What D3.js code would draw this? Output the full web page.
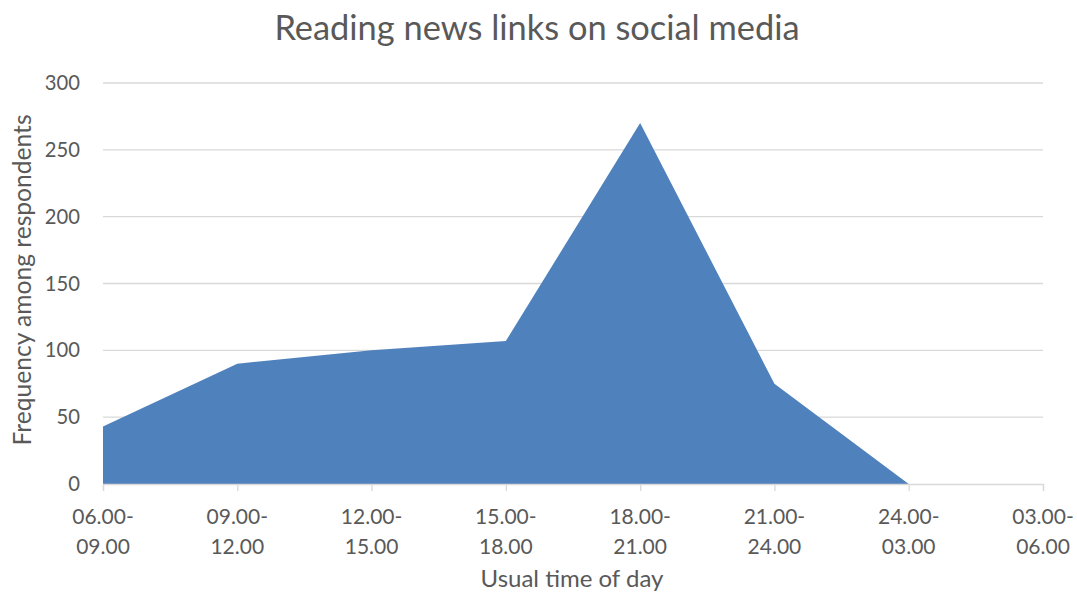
<!DOCTYPE html>
<html>
<head>
<meta charset="utf-8">
<script src="https://cdn.jsdelivr.net/npm/d3@7"></script>
<style>
  html, body { margin: 0; padding: 0; background: #fff; }
  svg { display: block; font-family: Lato, "Open Sans", sans-serif; }
</style>
</head>
<body>
<svg id="chart" width="1077" height="593"></svg>
<script>
// Time slots and how many respondents usually read news links then
const timeSlots = ["06.00-09.00", "09.00-12.00", "12.00-15.00", "15.00-18.00",
                   "18.00-21.00", "21.00-24.00", "24.00-03.00", "03.00-06.00"];
const frequency = [43, 90, 100, 107, 270, 75, 0, 0];
const yTicks = [0, 50, 100, 150, 200, 250, 300];

const titleText = "Reading news links on social media";
const xTitle = "Usual time of day";
const yTitle = "Frequency among respondents";

const svg = d3.select("#chart");
const margin = { left: 103, right: 34, top: 83, bottom: 109 };
const W = 1077, H = 593;

const x = d3.scalePoint().domain(timeSlots).range([margin.left, W - margin.right]);
const y = d3.scaleLinear().domain([0, 300]).range([H - margin.bottom, margin.top]);

const textColor = "#595959";
const gridColor = "#d9d9d9";

// horizontal gridlines
svg.append("g")
  .selectAll("line")
  .data(yTicks.filter(d => d > 0))
  .join("line")
  .attr("x1", margin.left).attr("x2", W - margin.right)
  .attr("y1", d => y(d)).attr("y2", d => y(d))
  .attr("stroke", gridColor).attr("stroke-width", 1.3);

// the area itself
const area = d3.area()
  .x(d => x(d.slot))
  .y0(y(0))
  .y1(d => y(d.value));
const rows = timeSlots.map((s, i) => ({ slot: s, value: frequency[i] }));
svg.append("path")
  .datum(rows)
  .attr("d", area)
  .attr("fill", "#4f81bd");

// bottom axis with downward ticks and two-line labels
const xAxis = svg.append("g")
  .attr("transform", `translate(0,${y(0)})`)
  .call(d3.axisBottom(x).tickSize(7).tickFormat(""));
xAxis.select(".domain").attr("stroke", gridColor).attr("stroke-width", 1.3);
xAxis.selectAll(".tick line").attr("stroke", gridColor).attr("stroke-width", 1.3);

const labels = svg.append("g").selectAll("text")
  .data(timeSlots)
  .join("text")
  .attr("x", d => x(d))
  .attr("y", y(0) + 40)
  .attr("text-anchor", "middle")
  .attr("fill", textColor)
  .attr("font-size", 21);
labels.append("tspan").attr("x", d => x(d)).text(d => d.split("-")[0] + "-");
labels.append("tspan").attr("x", d => x(d)).attr("dy", 30).text(d => d.split("-")[1]);

// left axis labels (no axis line)
svg.append("g").selectAll("text")
  .data(yTicks)
  .join("text")
  .attr("x", 80)
  .attr("y", d => y(d) + 7)
  .attr("text-anchor", "end")
  .attr("fill", textColor)
  .attr("font-size", 20.2)
  .text(d => d);

// titles
svg.append("text")
  .attr("x", 537).attr("y", 40)
  .attr("text-anchor", "middle")
  .attr("fill", textColor)
  .attr("font-size", 34.4)
  .text(titleText);

svg.append("text")
  .attr("x", 572).attr("y", 587)
  .attr("text-anchor", "middle")
  .attr("fill", textColor)
  .attr("font-size", 24)
  .text(xTitle);

svg.append("text")
  .attr("transform", "translate(31,280) rotate(-90)")
  .attr("text-anchor", "middle")
  .attr("fill", textColor)
  .attr("font-size", 24.6)
  .text(yTitle);
</script>
</body>
</html>
